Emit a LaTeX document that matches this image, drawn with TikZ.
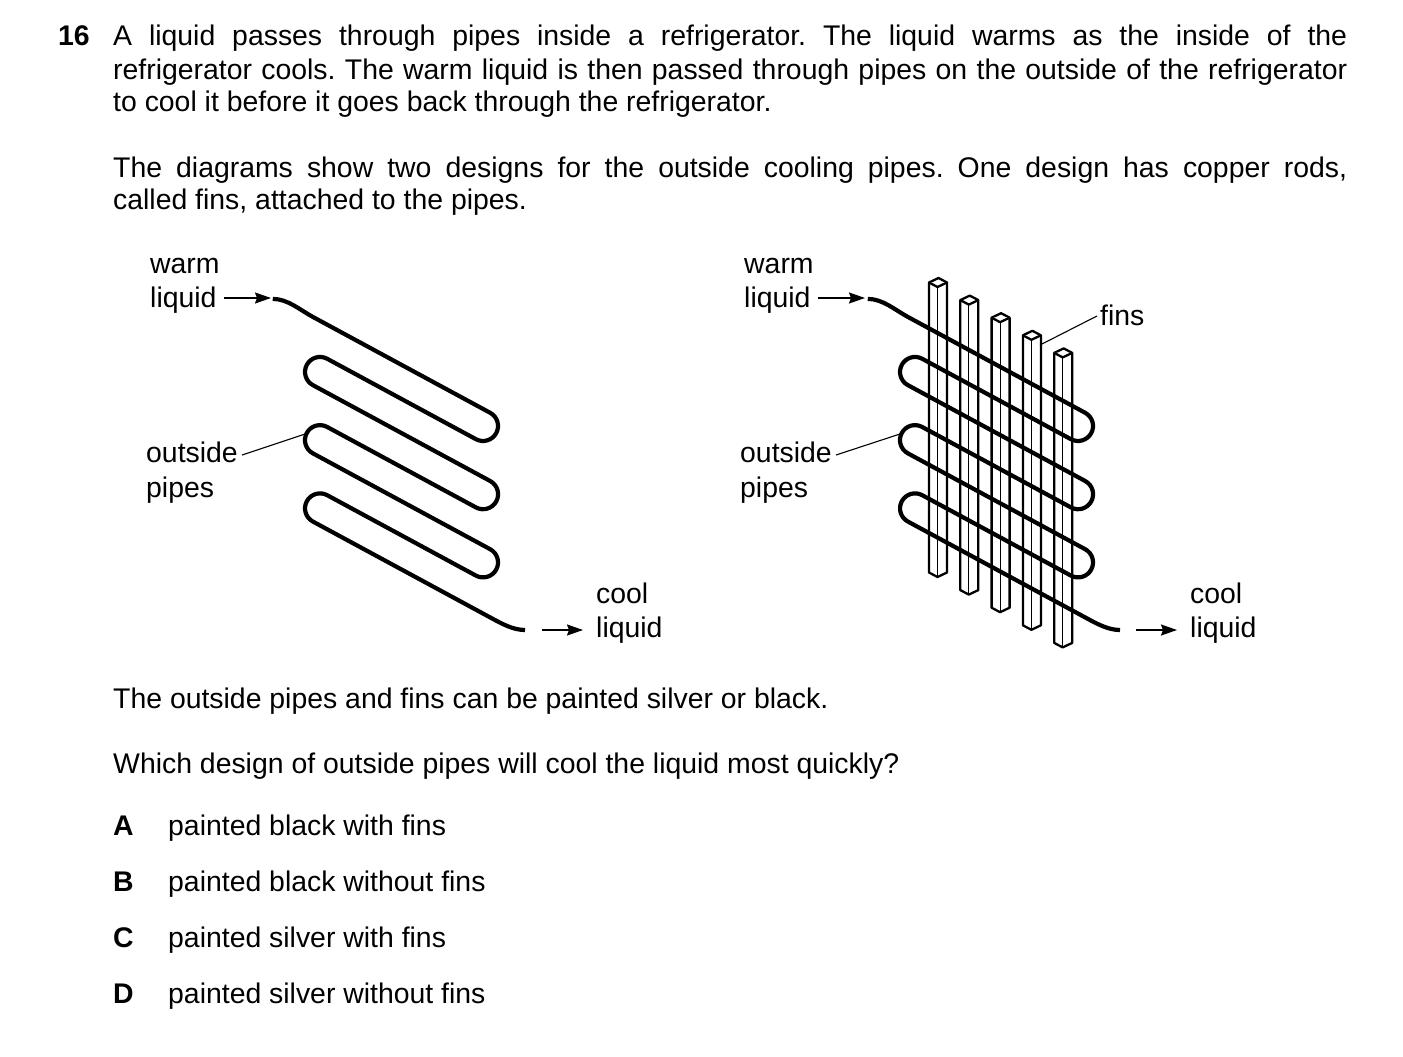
\documentclass[tikz,border=0pt]{standalone}
\usepackage{fontspec}
\setmainfont{Liberation Sans}
\usetikzlibrary{arrows.meta}
\begin{document}
\frenchspacing
\begin{tikzpicture}[x=1pt,y=1pt,
  txt/.style={anchor=base west,inner sep=0pt,font=\fontsize{28.4}{34}\selectfont},
  pipe/.style={line width=4.2pt,line join=round},
  lead/.style={line width=1.1pt},
  arr/.style={line width=1.8pt,-{Stealth[length=16pt,width=11pt,inset=2pt]}},
  rod/.style={line width=2.3pt,fill=white,line join=round}]
\useasboundingbox (0,0) rectangle (1403,-1057);
\newcommand{\jline}[3]{\node[txt] (#1) at (113,#2) {\makebox[1234pt][s]{#3}};}
\node[txt,font=\fontsize{28.4}{34}\selectfont\bfseries] (num) at (58,-46) {16};
\jline{l1}{-46}{A liquid passes through pipes inside a refrigerator. The liquid warms as the inside of the}
\jline{l2}{-79}{refrigerator cools. The warm liquid is then passed through pipes on the outside of the refrigerator}
\node[txt] (l3) at (113,-111) {to cool it before it goes back through the refrigerator.};
\jline{l4}{-177}{The diagrams show two designs for the outside cooling pipes. One design has copper rods,}
\node[txt] (l5) at (113,-209) {called fins, attached to the pipes.};
\node[txt] (q1) at (113,-708) {The outside pipes and fins can be painted silver or black.};
\node[txt] (q2) at (113,-773) {Which design of outside pipes will cool the liquid most quickly?};
\foreach \L/\T/\y in {A/painted black with fins/835,B/painted black without fins/891,C/painted silver with fins/947,D/painted silver without fins/1003}{
  \node[txt,font=\fontsize{28.4}{34}\selectfont\bfseries] (opt\L) at (113,-\y) {\L};
  \node[txt] (t\L) at (168,-\y) {\T};
}
% pipe macro
\newcommand{\drawpipe}{%
\begin{scope}[shift={(313,-317)},rotate=-28.4]
\draw[pipe] (-44,-3.2) .. controls (-30.8,3.9) and (-15,0) .. (0,0) -- (201.4,0)
 arc[start angle=90,end angle=-90,radius=15] -- (32.3,-30)
 arc[start angle=90,end angle=270,radius=15] -- (233.9,-60)
 arc[start angle=90,end angle=-90,radius=15] -- (64.7,-90)
 arc[start angle=90,end angle=270,radius=15] -- (266.3,-120)
 arc[start angle=90,end angle=-90,radius=15] -- (97.2,-150)
 arc[start angle=90,end angle=270,radius=15] -- (300,-180)
 .. controls (312,-180) and (324.8,-180.2) .. (335.4,-174.5);
\end{scope}}
% left diagram
\drawpipe
\node[txt] (w1) at (150,-273) {warm};
\node[txt] (wl1) at (150,-307) {liquid};
\coordinate (wa1) at (224,-298); \coordinate (wb1) at (271,-298);
\draw[arr] (wa1) -- (wb1);
\node[txt] (o1) at (146,-462) {outside};
\node[txt] (p1) at (146,-497) {pipes};
\coordinate (oa1) at (242,-455); \coordinate (ob1) at (305,-434);
\draw[lead] (oa1) -- (ob1);
\node[txt] (c1) at (596,-603) {cool};
\node[txt] (cl1) at (596,-637) {liquid};
\coordinate (ca1) at (542,-630); \coordinate (cb1) at (583,-630);
\draw[arr] (ca1) -- (cb1);
% right diagram
\foreach \i in {0,...,4}{
  \pgfmathsetmacro{\xa}{929+31.3*\i}
  \pgfmathsetmacro{\yt}{-278-17.6*\i}
  \pgfmathsetmacro{\yb}{-577-17.6*\i}
  \draw[rod] (\xa,\yt-4.5) -- (\xa+9.5,\yt) -- (\xa+18,\yt-4.5) -- (\xa+18,\yb+4.5) -- (\xa+8.5,\yb) -- (\xa,\yb+4.5) -- cycle;
  \draw[rod] (\xa,\yt-4.5) -- (\xa+8.5,\yt-9) -- (\xa+18,\yt-4.5);
  \draw[line width=1.2pt] (\xa+8.5,\yt-9) -- (\xa+8.5,\yb);
}
\begin{scope}[xshift=595]
\drawpipe
\end{scope}
\node[txt] (w2) at (744,-273) {warm};
\node[txt] (wl2) at (744,-307) {liquid};
\coordinate (wa2) at (818,-298); \coordinate (wb2) at (865,-298);
\draw[arr] (wa2) -- (wb2);
\node[txt] (o2) at (740,-462) {outside};
\node[txt] (p2) at (740,-497) {pipes};
\coordinate (oa2) at (836,-455); \coordinate (ob2) at (900,-434);
\draw[lead] (oa2) -- (ob2);
\node[txt] (f2) at (1100,-325) {fins};
\coordinate (fa2) at (1097,-316); \coordinate (fb2) at (1040,-345);
\draw[lead] (fa2) -- (fb2);
\node[txt] (c2) at (1190,-603) {cool};
\node[txt] (cl2) at (1190,-637) {liquid};
\coordinate (ca2) at (1136,-630); \coordinate (cb2) at (1177,-630);
\draw[arr] (ca2) -- (cb2);
\end{tikzpicture}
\end{document}
